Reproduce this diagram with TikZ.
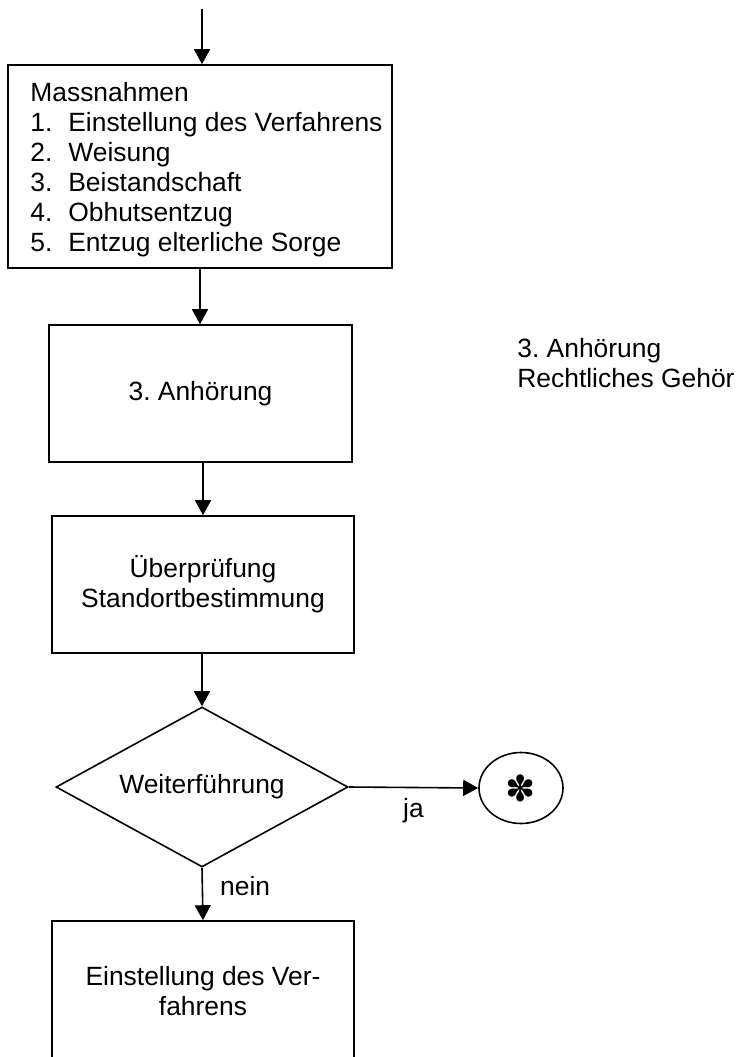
\documentclass[tikz,border=0pt]{standalone}
\usepackage{fontspec}
\setmainfont{Liberation Sans}
\newfontfamily\symfont{DejaVu Sans}
\usetikzlibrary{shapes.geometric,arrows.meta}
\frenchspacing

\begin{document}
\begin{tikzpicture}[x=0.5pt,y=-0.5pt,
  font=\fontsize{13.2}{15}\selectfont,
  box/.style={draw,line width=0.8pt,rectangle,inner sep=0pt,align=center},
  flow/.style={draw,line width=0.8pt,-{Triangle[length=7.5pt,width=8pt]}},
  lbl/.style={inner sep=0pt}]
\clip (0,0) rectangle (741,1057);

% Kasten Massnahmen
\node[box,minimum width=192pt,minimum height=101.5pt] (massn) at (200,166.5) {};
\node[lbl,anchor=west,align=left] (massntxt) at (30,169.5) {Massnahmen\\
  \makebox[19pt][l]{1.}Einstellung des Verfahrens\\
  \makebox[19pt][l]{2.}Weisung\\
  \makebox[19pt][l]{3.}Beistandschaft\\
  \makebox[19pt][l]{4.}Obhutsentzug\\
  \makebox[19pt][l]{5.}Entzug elterliche Sorge};

\node[box,minimum width=151.5pt,minimum height=68.5pt] (anh) at (200.5,393.5) {3. Anhörung};
\node[box,minimum width=151pt,minimum height=68.5pt] (ueber) at (203,584.5) {Überprüfung\\Standortbestimmung};
\node[draw,diamond,aspect=1.825,line width=0.8pt,inner sep=0pt,minimum width=146pt,minimum height=80pt] (weiter) at (202,787) {Weiterführung};
\node[draw,ellipse,line width=0.8pt,inner sep=0pt,minimum width=42pt,minimum height=35.5pt] (star) at (521,788) {\symfont\fontsize{18}{18}\selectfont ✽};
\node[box,minimum width=151pt,minimum height=70pt] (einst) at (203,991) {Einstellung des Ver-\\fahrens};

% Notiz rechts
\node[lbl,anchor=west,align=left] (rg) at (517,363.5) {3. Anhörung\\Rechtliches Gehör};

% Pfeile
\coordinate (in) at (202,9);
\draw[flow] (in) -- (in |- massn.north);
\draw[flow] (massn.south) -- (massn.south |- anh.north);
\draw[flow] (ueber.north |- anh.south) -- (ueber.north);
\draw[flow] (weiter.north |- ueber.south) -- (weiter.north);
\draw[flow] (weiter.east) -- node[lbl,below=5pt] (ja) {ja} (star.west);
\draw[flow] (weiter.south) -- node[lbl,pos=0.35,right=8.5pt] (nein) {nein} (einst.north);
\end{tikzpicture}
\end{document}
